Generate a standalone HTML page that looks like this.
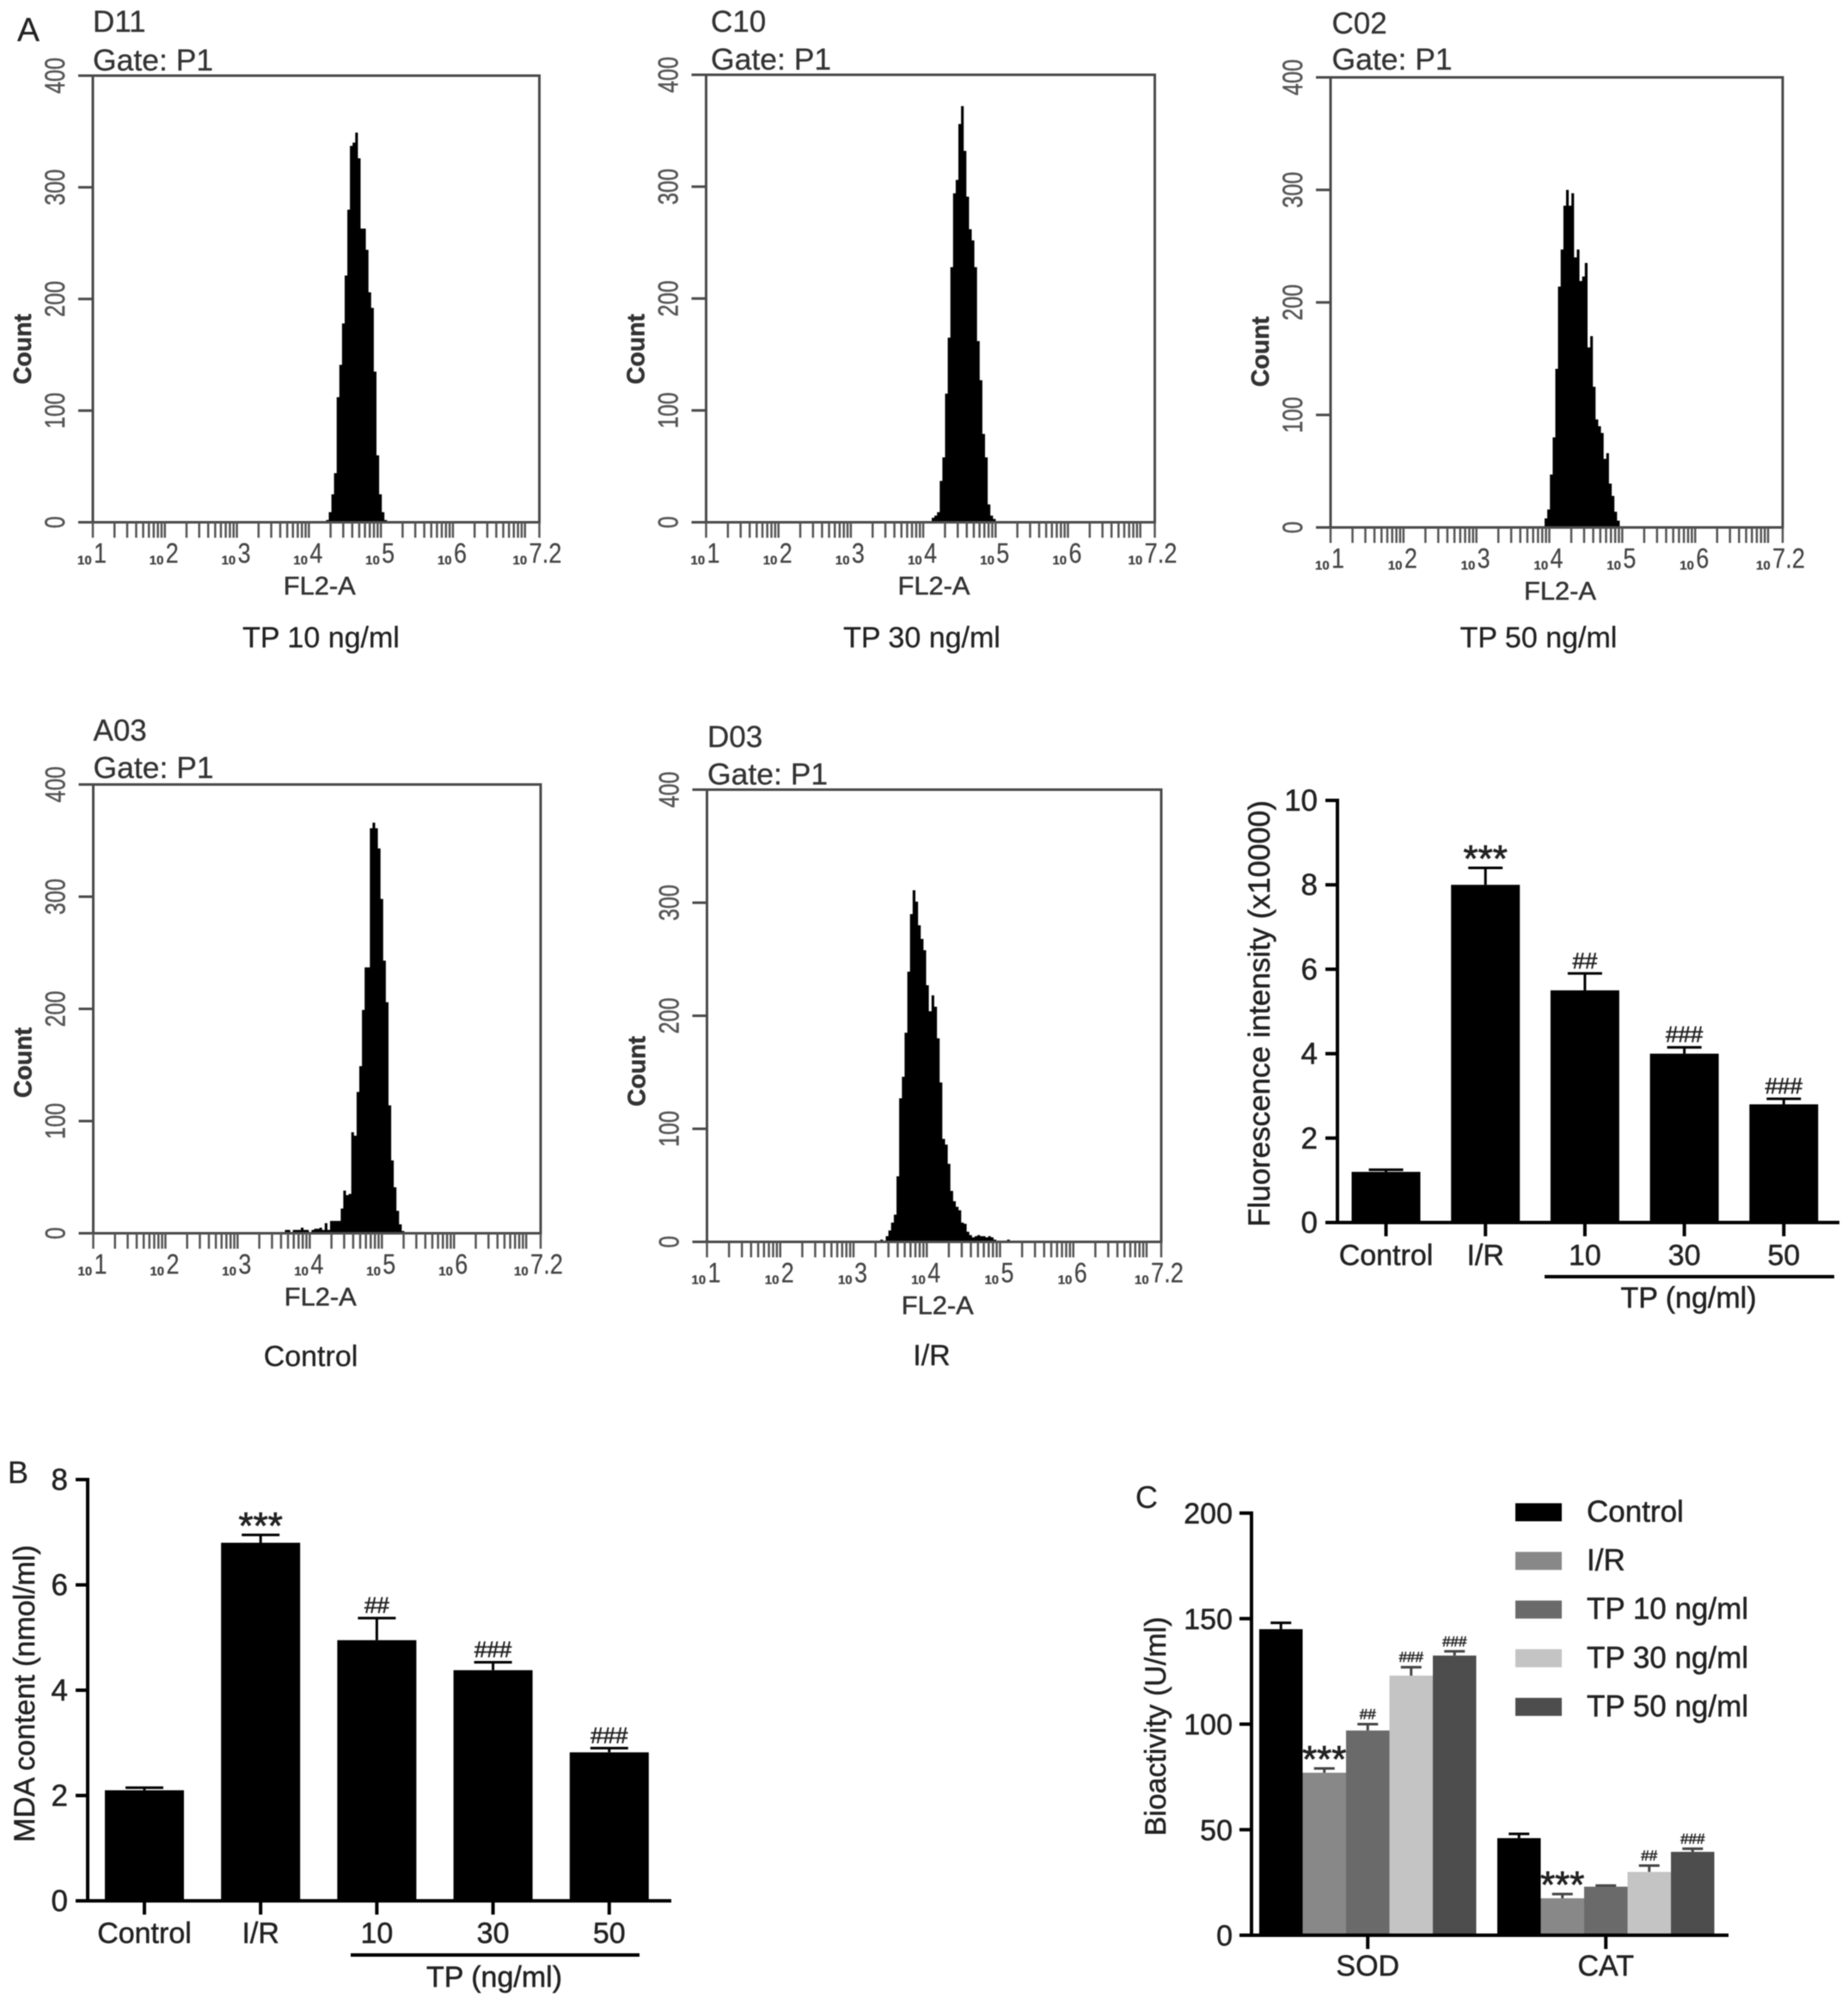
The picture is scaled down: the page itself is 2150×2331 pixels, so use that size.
<!DOCTYPE html>
<html lang="en">
<head>
<meta charset="utf-8">
<title>Flow cytometry histograms and oxidative stress bar charts</title>
<style>
html,body{margin:0;padding:0;background:#fff;}
svg{display:block;filter:blur(0.6px);}
text{font-family:"Liberation Sans",sans-serif;}
</style>
</head>
<body>
<svg id="fig" xmlns="http://www.w3.org/2000/svg" width="2150" height="2331" viewBox="0 0 2150 2331">
<rect width="2150" height="2331" fill="#fff"/>
</svg>
<script>
// ---- flow histogram data (counts per channel bin) ----
const countTicks = ['0','100','200','300','400'];
const countTickValues = [0,100,200,300,400];
const decadeExponents = ['1','2','3','4','5','6','7.2'];
const d11Start = 4.239;
const d11Counts = [2,9,25,44,112,141,178,221,280,337,340,349,326,263,263,244,206,192,135,60,25,9,2];
const c10Start = 4.118;
const c10Counts = [4,6,9,37,58,115,165,228,294,306,356,372,332,291,262,252,228,162,127,79,58,16,6,3];
const c02Start = 3.935;
const c02Counts = [8,16,47,80,141,214,247,286,300,286,297,240,247,219,223,235,160,170,125,96,90,84,61,66,39,28,14,6];
const a03Start = 3.656;
const a03Counts = [3,3,1,3,3,3,5,3,3,1,3,4,4,5,3,9,3,11,11,11,11,22,38,34,35,90,87,126,149,199,237,237,361,366,361,343,298,243,206,114,65,41,20,8,2];
const d03Start = 3.366;
const d03Counts = [2,1,5,10,17,24,58,127,146,185,239,290,311,301,280,268,258,227,204,218,208,180,141,91,86,69,45,36,31,28,17,16,9,6,4,5,6,5,5,4,5,4,2,1,0,0,0,2];
const binLogWidth = 0.0368;

// ---- fluorescence bar chart ----
const groupLabels = ['Control','I/R','10','30','50'];
const fluorTicks = [0,2,4,6,8,10];
const fluorValues = [1.2,8.0,5.5,4.0,2.8];
const fluorErrorTops = [1.25,8.4,5.9,4.15,2.93];
const fluorMarks = ['','***','##','###','###'];

// ---- MDA bar chart ----
const mdaTicks = [0,2,4,6,8];
const mdaValues = [2.1,6.8,4.95,4.38,2.82];
const mdaErrorTops = [2.15,6.95,5.37,4.53,2.9];
const mdaMarks = ['','***','##','###','###'];

// ---- bioactivity grouped bar chart ----
const enzymeLabels = ['SOD','CAT'];
const bioTicks = [0,50,100,150,200];
const bioSeriesNames = ['Control','I/R','TP 10 ng/ml','TP 30 ng/ml','TP 50 ng/ml'];
const bioControl = [145,46];
const bioIR = [77,17.5];
const bioTP10 = [97,23];
const bioTP30 = [123,30];
const bioTP50 = [132.5,39.5];
const bioControlErr = [148,48];
const bioIRErr = [79,19.5];
const bioTP10Err = [100,23.5];
const bioTP30Err = [127,33];
const bioTP50Err = [134.5,41];
const bioMarksSOD = ['','***','##','###','###'];
const bioMarksCAT = ['','***','','##','###'];
const bioColors = ['#000000','#888888','#6a6a6a','#c4c4c4','#4d4d4d'];

const NS = 'http://www.w3.org/2000/svg';
const root = document.getElementById('fig');

function el(tag, attrs, name, parent) {
  const e = document.createElementNS(NS, tag);
  for (const k in attrs) e.setAttribute(k, attrs[k]);
  
  
  (parent || root).appendChild(e);
  return e;
}
function txt(str, x, y, size, name, opt, parent) {
  opt = opt || {};
  const col = opt.fill || '#222';
  const a = {x: x, y: y, 'font-size': size, fill: col, stroke: col, 'stroke-width': opt.sw === undefined ? 0.5 : opt.sw};
  if (opt.anchor) a['text-anchor'] = opt.anchor;
  if (opt.bold) a['font-weight'] = 'bold';
  if (opt.rotate) a.transform = 'rotate(-90 ' + x + ' ' + y + ')';
  if (opt.len) { a.textLength = opt.len; a.lengthAdjust = 'spacingAndGlyphs'; }
  const e = el('text', a, name, parent);
  e.textContent = str;
  return e;
}
function line(x1, y1, x2, y2, stroke, w, name, parent) {
  return el('line', {x1: x1, y1: y1, x2: x2, y2: y2, stroke: stroke, 'stroke-width': w}, name, parent);
}

function drawFlow(id, box, title, caption, counts, start) {
  const g = el('g', {}, id + '-histogram-panel');
  const x = v => box.l + (v - 1) * (box.r - box.l) / 6.2;
  const y = c => box.b - c * (box.b - box.t) / 400;
  const axis = '#4a4a4a';

  let d = 'M' + x(start).toFixed(1) + ' ' + y(0);
  counts.forEach((c, i) => {
    d += 'V' + y(c).toFixed(1) + 'H' + x(start + (i + 1) * binLogWidth).toFixed(1);
  });
  d += 'V' + y(0) + 'Z';
  el('path', {d: d, fill: '#000'}, id + '-histogram', g);

  el('rect', {x: box.l, y: box.t, width: box.r - box.l, height: box.b - box.t, fill: 'none', stroke: axis, 'stroke-width': 3}, id + '-plot-frame', g);

  countTickValues.forEach((v, i) => {
    line(box.l - 17, y(v), box.l, y(v), axis, 3, id + '-y-tick', g);
    txt(countTicks[i], box.l - 33, y(v), 32, id + '-y-tick-label', {rotate: true, anchor: 'middle', fill: '#555', len: 14 * countTicks[i].length}, g);
  });
  txt('Count', box.l - 72, box.countY, 29, id + '-y-axis-title', {rotate: true, anchor: 'middle', bold: true, fill: '#333', len: 82}, g);

  for (let dec = 1; dec <= 6; dec++) {
    for (let m = 1; m < 10; m++) {
      const px = x(dec + Math.log10(m));
      line(px, box.b, px, box.b + 18, '#555', 2.5, id + '-x-tick', g);
    }
  }
  [7, 7.2].forEach(v => line(x(v), box.b, x(v), box.b + 18, '#555', 2.5, id + '-x-tick', g));

  decadeExponents.forEach((exp) => {
    const v = Number(exp);
    const last = exp.length > 1;
    const shift = last ? -12 : 1;
    txt('10', x(v) + shift - 19, box.b + 49, 15, id + '-x-tick-base', {bold: true, fill: '#444', sw: 0.3}, g);
    txt(exp, x(v) + shift, box.b + 47, 32, id + '-x-tick-exponent', {fill: '#444', len: last ? 38 : 15, sw: 0.2}, g);
  });
  txt('FL2-A', (box.l + box.r) / 2 + 4, box.b + 84, 30, id + '-x-axis-title', {anchor: 'middle', fill: '#333', len: 84}, g);
  txt(title, box.tx, box.t1, 35, id + '-sample-id', {fill: '#333', sw: 0.3}, g);
  txt('Gate: P1', box.tx, box.t2, 35.5, id + '-gate-label', {fill: '#333', sw: 0.3}, g);
  txt(caption, box.cx, box.cy, 34, id + '-caption', {anchor: 'middle', sw: 0.3}, g);
}

drawFlow('d11', {l:108,r:627.5,t:88,b:607.5,tx:108,t1:37,t2:82,countY:406,cx:373.5,cy:753}, 'D11', 'TP 10 ng/ml', d11Counts, d11Start);
drawFlow('c10', {l:821.5,r:1343.5,t:87,b:607.5,tx:827,t1:37,t2:81,countY:406,cx:1072.5,cy:753}, 'C10', 'TP 30 ng/ml', c10Counts, c10Start);
drawFlow('c02', {l:1548,r:2074,t:90,b:613.5,tx:1549.5,t1:39,t2:81,countY:409,cx:1790,cy:753}, 'C02', 'TP 50 ng/ml', c02Counts, c02Start);
drawFlow('a03', {l:108.5,r:629,t:912.5,b:1434.5,tx:108.5,t1:861.5,t2:905,countY:1236,cx:361.5,cy:1589}, 'A03', 'Control', a03Counts, a03Start);
drawFlow('d03', {l:822.5,r:1351,t:918.5,b:1444.5,tx:823,t1:869,t2:912.5,countY:1246,cx:1084,cy:1588}, 'D03', 'I/R', d03Counts, d03Start);

function drawMark(mark, cx, errY, g, small) {
  if (!mark) return;
  if (mark[0] === '*') {
    txt(mark, cx, errY + 4, 44, 'significance-stars', {anchor: 'middle', fill: '#222', sw: 0.8}, g);
  } else {
    txt(mark, cx, errY - 6, small ? 17 : 26, 'significance-hashes', {anchor: 'middle', fill: '#222', sw: 0.6}, g);
  }
}

function drawBars(id, cfg, ticks, values, tops, marks) {
  const g = el('g', {}, id + '-bar-chart');
  const y = v => cfg.y0 - v * (cfg.y0 - cfg.yMax) / cfg.max;
  const cx = i => cfg.c0 + i * cfg.step;
  const ink = '#000';
  values.forEach((v, i) => {
    el('rect', {x: cx(i) - cfg.w / 2, y: y(v), width: cfg.w, height: cfg.y0 - y(v), fill: '#000'}, id + '-bar-' + groupLabels[i].toLowerCase().replace('/', ''), g);
    line(cx(i), y(v), cx(i), y(tops[i]), ink, 3, id + '-error-stem', g);
    line(cx(i) - cfg.cap, y(tops[i]), cx(i) + cfg.cap, y(tops[i]), ink, 3, id + '-error-cap', g);
    drawMark(marks[i], cx(i), y(tops[i]), g, false);
    line(cx(i), cfg.y0, cx(i), cfg.y0 + 16, ink, 4, id + '-x-tick', g);
    txt(groupLabels[i], cx(i), cfg.labelY, 34, id + '-x-tick-label', {anchor: 'middle', fill: '#222'}, g);
  });
  line(cfg.x0, cfg.yMax - 2, cfg.x0, cfg.y0 + 2, ink, 4, id + '-y-axis', g);
  line(cfg.x0 - 14, cfg.y0, cfg.xEnd, cfg.y0, ink, 4, id + '-x-axis', g);
  ticks.forEach(v => {
    line(cfg.x0 - 14, y(v), cfg.x0, y(v), ink, 4, id + '-y-tick', g);
    txt(String(v), cfg.x0 - 23, y(v) + 12, 35, id + '-y-tick-label', {anchor: 'end', fill: '#222'}, g);
  });
  txt(cfg.title, cfg.titleX, cfg.titleY, cfg.titleSize, id + '-y-axis-title', {anchor: 'middle', rotate: true, fill: '#222'}, g);
  line(cfg.ulA, cfg.ulY, cfg.ulB, cfg.ulY, ink, 4, id + '-tp-group-line', g);
  txt('TP (ng/ml)', (cfg.ulA + cfg.ulB) / 2 - 1, cfg.tpY, 34, id + '-tp-group-label', {anchor: 'middle', fill: '#222'}, g);
}

drawBars('fluorescence', {y0:1422,yMax:931,max:10,x0:1556,xEnd:2140,c0:1612.5,step:115.7,w:80,cap:20,labelY:1471.5,
  title:'Fluorescence intensity (x10000)',titleSize:35,titleX:1477,titleY:1179,ulA:1797,ulB:2134,ulY:1485,tpY:1521},
  fluorTicks, fluorValues, fluorErrorTops, fluorMarks);

drawBars('mda', {y0:2211,yMax:1721,max:8,x0:102,xEnd:781,c0:168,step:135.2,w:92,cap:22,labelY:2260,
  title:'MDA content (nmol/ml)',titleSize:34,titleX:40,titleY:1970,ulA:408,ulB:744,ulY:2274,tpY:2311},
  mdaTicks, mdaValues, mdaErrorTops, mdaMarks);

// grouped chart C
(function () {
  const g = el('g', {}, 'bioactivity-bar-chart');
  const y0 = 2251, yMax = 1760, x0 = 1456;
  const y = v => y0 - v * (y0 - yMax) / 200;
  const barW = 50.5;
  const groupLeft = i => 1465 + i * 277;
  const series = [bioControl, bioIR, bioTP10, bioTP30, bioTP50];
  const errs = [bioControlErr, bioIRErr, bioTP10Err, bioTP30Err, bioTP50Err];
  const marks = [bioMarksSOD, bioMarksCAT];
  enzymeLabels.forEach((lab, gi) => {
    series.forEach((vals, si) => {
      const left = groupLeft(gi) + si * barW;
      const c = left + barW / 2;
      const e = y(errs[si][gi]);
      const col = si === 0 ? '#000' : '#444';
      line(c, y(vals[gi]), c, e, col, 3, 'bioactivity-error-stem', g);
      line(c - 12, e, c + 12, e, col, 3, 'bioactivity-error-cap', g);
      el('rect', {x: left, y: y(vals[gi]), width: barW, height: y0 - y(vals[gi]), fill: bioColors[si]}, 'bioactivity-bar-' + lab.toLowerCase() + '-' + si, g);
      drawMark(marks[gi][si], c, e, g, true);
    });
    const cx = groupLeft(gi) + barW * 2.5;
    line(cx, y0, cx, y0 + 16, '#000', 4, 'bioactivity-x-tick', g);
    txt(lab, cx, 2298, 34, 'bioactivity-x-tick-label', {anchor: 'middle', fill: '#222'}, g);
  });
  line(x0, yMax - 2, x0, y0 + 2, '#000', 4, 'bioactivity-y-axis', g);
  line(x0 - 14, y0, 2011, y0, '#000', 4, 'bioactivity-x-axis', g);
  bioTicks.forEach(v => {
    line(x0 - 14, y(v), x0, y(v), '#000', 4, 'bioactivity-y-tick', g);
    txt(String(v), x0 - 22, y(v) + 12, 34, 'bioactivity-y-tick-label', {anchor: 'end', fill: '#222'}, g);
  });
  txt('Bioactivity (U/ml)', 1356, 2008, 34, 'bioactivity-y-axis-title', {anchor: 'middle', rotate: true, fill: '#222'}, g);
  bioSeriesNames.forEach((name, i) => {
    const ly = 1748.5 + i * 56.6;
    el('rect', {x: 1763, y: ly, width: 54, height: 21, fill: bioColors[i]}, 'legend-swatch', g);
    txt(name, 1846, ly + 21.5, 35, 'legend-entry', {fill: '#222'}, g);
  });
})();

txt('A', 20, 48, 39, 'panel-label-a', {fill: '#222', sw: 0.2});
txt('B', 9, 1725, 36, 'panel-label-b', {fill: '#222', sw: 0.2});
txt('C', 1321, 1754, 36, 'panel-label-c', {fill: '#222', sw: 0.2});
</script>
</body>
</html>
